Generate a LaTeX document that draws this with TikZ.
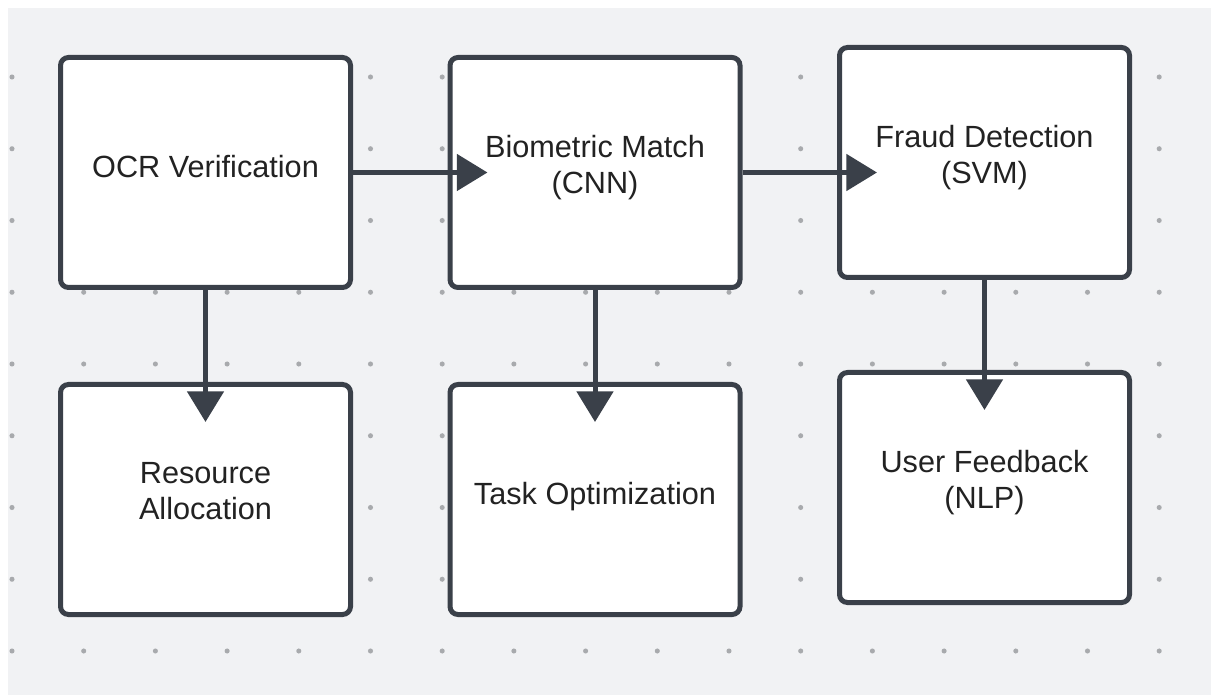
\documentclass[tikz,border=0pt]{standalone}
\usepackage{fontspec}
\setmainfont{Liberation Sans}
\usetikzlibrary{arrows.meta}
\usetikzlibrary{calc}
\definecolor{canvasGray}{HTML}{F1F2F4}
\definecolor{gridDot}{HTML}{A8AAAD}
\definecolor{edgeDark}{HTML}{3A4049}
\definecolor{inkDark}{HTML}{222222}
\tikzset{
  stage/.style={draw=edgeDark, fill=white, line width=3.75pt, rounded corners=6pt,
    minimum width=217.5pt, minimum height=172.5pt, align=center, text=inkDark,
    font=\fontsize{23}{27}\selectfont,
    execute at begin node={\rule{0pt}{20.5pt}},
    execute at end node={\rule[-12.5pt]{0pt}{12.5pt}}},
  flow/.style={draw=edgeDark, line width=3.75pt, shorten >=-30pt,
    -{Triangle[length=23pt, width=27pt]}}
}

\begin{document}
\begin{tikzpicture}[x=0.75pt,y=-0.75pt]
\useasboundingbox (0,0) rectangle (1211,695);
% canvas and its dot grid
\fill[canvasGray] (8,8) rectangle (1211,695);
\foreach \i in {0,...,16}
  \foreach \j in {0,...,8}
    \fill[gridDot] ({12+71.7*\i},{77+71.75*\j}) circle[radius=1.9pt];
% top row
\node[stage] (ocr) at (205.5,172.5) {OCR Verification};
\node[stage] (bio) at (595,172.5) {Biometric Match\\(CNN)};
\node[stage] (fraud) at (984.5,162.5) {Fraud Detection\\(SVM)};
% bottom row
\node[stage] (alloc) at (205.5,499.5) {Resource\\Allocation};
\node[stage] (task) at (595,499.5) {Task Optimization};
\node[stage] (feedback) at (984.5,487.5) {User Feedback\\(NLP)};
% arrows
\draw[flow] (ocr) -- (bio);
\draw[flow] (bio.east) -- (bio.east -| fraud.west);
\draw[flow] (ocr) -- (alloc);
\draw[flow] (bio) -- (task);
\draw[flow] (fraud) -- (feedback);
\end{tikzpicture}
\end{document}
